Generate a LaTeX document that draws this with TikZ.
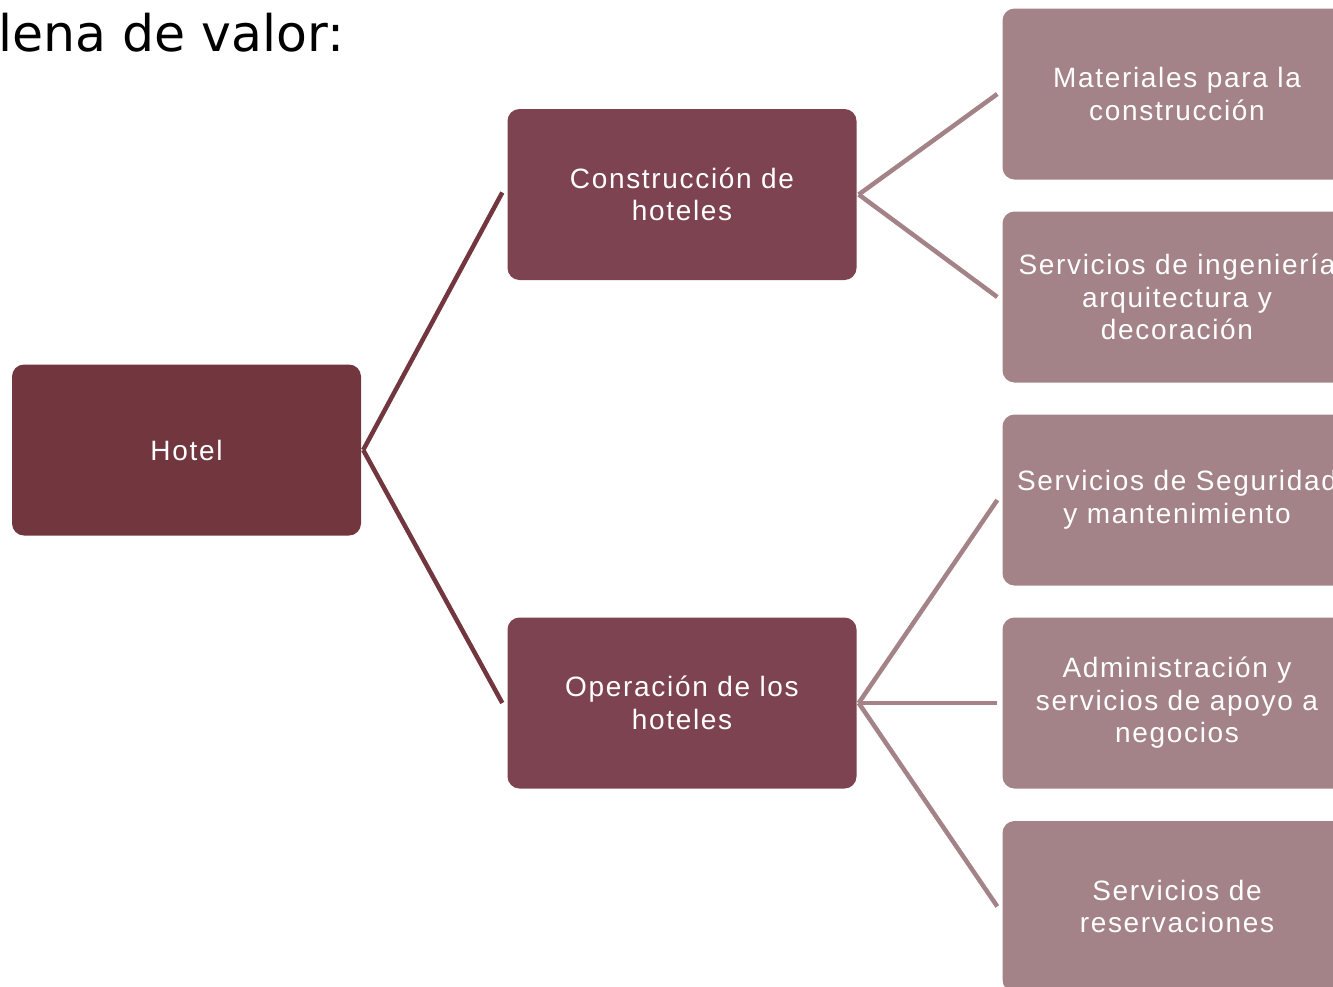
\documentclass[tikz,border=0pt]{standalone}
\usepackage{fontspec}
\setmainfont{Liberation Sans}[LetterSpace=6]
\newfontfamily\titlefont{DejaVu Sans}
\definecolor{dark}{HTML}{72363F}
\definecolor{mid}{HTML}{7E4350}
\definecolor{light}{HTML}{A38388}
\begin{document}
\begin{tikzpicture}[x=1pt,y=-1pt,
  box/.style={rounded corners=12pt, minimum width=349pt, minimum height=171pt,
    inner sep=0pt, align=center, text=white, font=\fontsize{28}{32.5}\selectfont},
  darkline/.style={draw=dark, line width=4.5pt},
  lightline/.style={draw=light, line width=4.5pt}]
\useasboundingbox (0,0) rectangle (1333,986);
\clip (0,0) rectangle (1333,986);
\node[anchor=base west, inner sep=0pt, font=\titlefont\fontsize{50.5}{60}\selectfont] (title) at (-2,51) {lena de valor:};
\node[box, fill=dark] (hotel) at (186.5,450) {Hotel};
\node[box, fill=mid] (cons) at (682,194.5) {Construcción de\\hoteles};
\node[box, fill=mid] (oper) at (682,703) {Operación de los\\hoteles};
\node[box, fill=light] (mat) at (1177,94) {Materiales para la\\construcción};
\node[box, fill=light] (ing) at (1177,297) {Servicios de ingeniería\\arquitectura y\\decoración};
\node[box, fill=light] (seg) at (1177,500) {Servicios de Seguridad\\y mantenimiento};
\node[box, fill=light] (adm) at (1177,703) {Administración y\\servicios de apoyo a\\negocios};
\node[box, fill=light] (res) at (1177,906.5) {Servicios de\\reservaciones};
\draw[darkline] ([xshift=2pt]hotel.east) -- ([xshift=-5pt,yshift=2pt]cons.west);
\draw[darkline] ([xshift=2pt]hotel.east) -- ([xshift=-5pt]oper.west);
\draw[lightline] ([xshift=2pt]cons.east) -- ([xshift=-5pt]mat.west);
\draw[lightline] ([xshift=2pt]cons.east) -- ([xshift=-5pt]ing.west);
\draw[lightline] ([xshift=2pt]oper.east) -- ([xshift=-5pt]seg.west);
\draw[lightline] ([xshift=2pt]oper.east) -- ([xshift=-5pt]adm.west);
\draw[lightline] ([xshift=2pt]oper.east) -- ([xshift=-5pt]res.west);
\end{tikzpicture}
\end{document}
